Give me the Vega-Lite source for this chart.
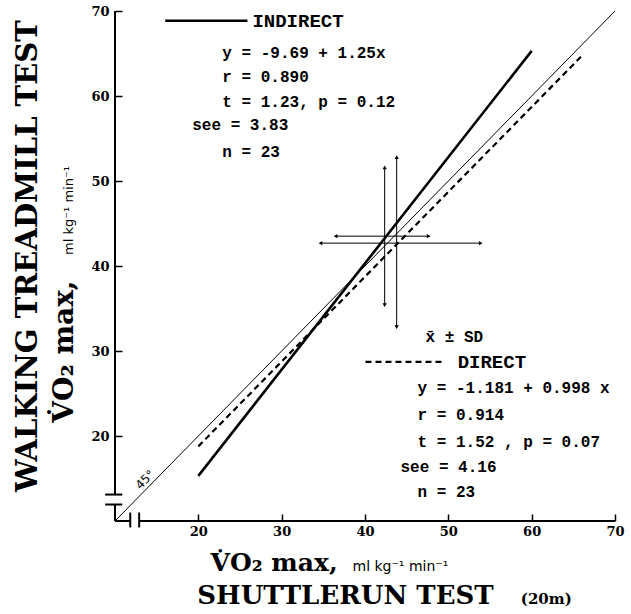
{
  "$schema": "https://vega.github.io/schema/vega-lite/v6.json",
  "width": 500,
  "height": 510,
  "autosize": {"type": "none"},
  "padding": {"left": 115, "top": 11, "right": 16, "bottom": 93},
  "background": "white",
  "config": {
    "view": {"stroke": null},
    "axis": {"domain": false, "grid": false, "tickSize": -7, "tickWidth": 1.5, "tickColor": "black", "labelFont": "DejaVu Serif", "labelFontSize": 13, "labelFontWeight": "bold", "labelColor": "black", "labelFlush": false, "titleFontSize": 0},
    "axisX": {"labelPadding": 11},
    "axisY": {"labelPadding": 13}
  },
  "datasets": {
    "lines": [
      {"id": "identity", "x": 10, "y": 10},
      {"id": "identity", "x": 70, "y": 70},
      {"id": "indirect", "x": 20, "y": 15.31},
      {"id": "indirect", "x": 60, "y": 65.31},
      {"id": "indirect_key", "x": 16.03, "y": 68.86},
      {"id": "indirect_key", "x": 25.89, "y": 68.86},
      {"id": "direct", "x": 20, "y": 18.78},
      {"id": "direct", "x": 66.1, "y": 64.8},
      {"id": "direct_key", "x": 40.06, "y": 28.72},
      {"id": "direct_key", "x": 49.32, "y": 28.72}
    ],
    "crosses": [
      {"cross": "A", "x": 42.36, "x_lo": 36.47, "x_hi": 47.64, "y": 43.51, "y_lo": 35.4, "y_hi": 51.6},
      {"cross": "B", "x": 43.8, "x_lo": 34.66, "x_hi": 53.89, "y": 42.69, "y_lo": 32.8, "y_hi": 52.8}
    ],
    "frame": [
      {"x": 10, "x2": 10, "y": 13.11, "y2": 70},
      {"x": 10, "x2": 10, "y": 10, "y2": 11.94},
      {"x": 8.82, "x2": 10.87, "y": 13.11, "y2": 13.11},
      {"x": 8.82, "x2": 10.87, "y": 11.94, "y2": 11.94},
      {"x": 10, "x2": 11.83, "y": 10, "y2": 10},
      {"x": 12.9, "x2": 70, "y": 10, "y2": 10},
      {"x": 11.83, "x2": 11.83, "y": 9.24, "y2": 11.0},
      {"x": 12.9, "x2": 12.9, "y": 9.24, "y2": 11.0}
    ],
    "stats": [
      {"x": 22.88, "y": 65.1, "text": "y = -9.69 + 1.25x"},
      {"x": 22.88, "y": 62.29, "text": "r = 0.890"},
      {"x": 22.88, "y": 59.24, "text": "t = 1.23,  p = 0.12"},
      {"x": 19.27, "y": 56.54, "text": "see = 3.83"},
      {"x": 22.88, "y": 53.37, "text": "n = 23"},
      {"x": 47.27, "y": 31.65, "text": "x̄ ± SD"},
      {"x": 46.31, "y": 25.67, "text": "y = -1.181 + 0.998 x"},
      {"x": 46.31, "y": 22.5, "text": "r =  0.914"},
      {"x": 46.31, "y": 19.33, "text": "t =  1.52 , p = 0.07"},
      {"x": 44.26, "y": 16.4, "text": "see =  4.16"},
      {"x": 46.31, "y": 13.46, "text": "n =  23"}
    ],
    "heads": [
      {"x": 26.49, "y": 68.86, "text": "INDIRECT"},
      {"x": 51.12, "y": 28.72, "text": "DIRECT"}
    ]
  },
  "layer": [
    {
      "data": {"name": "lines"},
      "transform": [{"filter": "datum.id === 'identity'"}],
      "mark": {"type": "line", "color": "black", "strokeWidth": 1},
      "encoding": {
        "x": {"field": "x", "type": "quantitative", "title": null, "scale": {"domain": [10, 70], "nice": false, "zero": false},
          "axis": {"values": [20, 30, 40, 50, 60, 70]}},
        "y": {"field": "y", "type": "quantitative", "title": null, "scale": {"domain": [10, 70], "nice": false, "zero": false},
          "axis": {"values": [20, 30, 40, 50, 60, 70]}}
      }
    },
    {
      "data": {"name": "lines"},
      "transform": [{"filter": "datum.id === 'indirect' || datum.id === 'indirect_key'"}],
      "mark": {"type": "line", "color": "black", "strokeWidth": 2.6},
      "encoding": {
        "x": {"field": "x", "type": "quantitative", "title": null},
        "y": {"field": "y", "type": "quantitative", "title": null},
        "detail": {"field": "id"}
      }
    },
    {
      "data": {"name": "lines"},
      "transform": [{"filter": "datum.id === 'direct' || datum.id === 'direct_key'"}],
      "mark": {"type": "line", "color": "black", "strokeWidth": 2.2, "strokeDash": [6, 4]},
      "encoding": {
        "x": {"field": "x", "type": "quantitative", "title": null},
        "y": {"field": "y", "type": "quantitative", "title": null},
        "detail": {"field": "id"}
      }
    },
    {
      "data": {"name": "frame"},
      "mark": {"type": "rule", "color": "black", "strokeWidth": 2},
      "encoding": {
        "x": {"field": "x", "type": "quantitative", "title": null},
        "x2": {"field": "x2"},
        "y": {"field": "y", "type": "quantitative", "title": null},
        "y2": {"field": "y2"}
      }
    },
    {
      "data": {"name": "crosses"},
      "mark": {"type": "rule", "color": "black", "strokeWidth": 1},
      "encoding": {
        "x": {"field": "x", "type": "quantitative", "title": null},
        "y": {"field": "y_lo", "type": "quantitative", "title": null},
        "y2": {"field": "y_hi"}
      }
    },
    {
      "data": {"name": "crosses"},
      "mark": {"type": "rule", "color": "black", "strokeWidth": 1},
      "encoding": {
        "y": {"field": "y", "type": "quantitative", "title": null},
        "x": {"field": "x_lo", "type": "quantitative", "title": null},
        "x2": {"field": "x_hi"}
      }
    },
    {
      "data": {"name": "crosses"},
      "mark": {"type": "point", "shape": "triangle-up", "filled": true, "color": "black", "size": 18, "opacity": 1},
      "encoding": {
        "x": {"field": "x", "type": "quantitative", "title": null},
        "y": {"field": "y_hi", "type": "quantitative", "title": null}
      }
    },
    {
      "data": {"name": "crosses"},
      "mark": {"type": "point", "shape": "triangle-down", "filled": true, "color": "black", "size": 18, "opacity": 1},
      "encoding": {
        "x": {"field": "x", "type": "quantitative", "title": null},
        "y": {"field": "y_lo", "type": "quantitative", "title": null}
      }
    },
    {
      "data": {"name": "crosses"},
      "mark": {"type": "point", "shape": "triangle-left", "filled": true, "color": "black", "size": 18, "opacity": 1},
      "encoding": {
        "x": {"field": "x_lo", "type": "quantitative", "title": null},
        "y": {"field": "y", "type": "quantitative", "title": null}
      }
    },
    {
      "data": {"name": "crosses"},
      "mark": {"type": "point", "shape": "triangle-right", "filled": true, "color": "black", "size": 18, "opacity": 1},
      "encoding": {
        "x": {"field": "x_hi", "type": "quantitative", "title": null},
        "y": {"field": "y", "type": "quantitative", "title": null}
      }
    },
    {
      "data": {"name": "stats"},
      "mark": {"type": "text", "align": "left", "baseline": "middle", "font": "Liberation Mono", "fontSize": 16, "fontWeight": "bold", "color": "black"},
      "encoding": {
        "x": {"field": "x", "type": "quantitative", "title": null},
        "y": {"field": "y", "type": "quantitative", "title": null},
        "text": {"field": "text"}
      }
    },
    {
      "data": {"name": "heads"},
      "mark": {"type": "text", "align": "left", "baseline": "middle", "font": "Liberation Mono", "fontSize": 19, "fontWeight": "bold", "color": "black"},
      "encoding": {
        "x": {"field": "x", "type": "quantitative", "title": null},
        "y": {"field": "y", "type": "quantitative", "title": null},
        "text": {"field": "text"}
      }
    },
    {
      "data": {"values": [{"x": 13.62, "y": 14.87, "text": "45°"}]},
      "mark": {"type": "text", "align": "center", "baseline": "middle", "angle": 315, "font": "DejaVu Sans", "fontSize": 12, "color": "black"},
      "encoding": {
        "x": {"field": "x", "type": "quantitative", "title": null},
        "y": {"field": "y", "type": "quantitative", "title": null},
        "text": {"field": "text"}
      }
    },
    {
      "data": {"values": [{"x": 21.46, "y": 4.07, "text": "V̇O₂ max,"}]},
      "mark": {"type": "text", "align": "left", "baseline": "alphabetic", "font": "DejaVu Serif", "fontSize": 25, "fontWeight": "bold", "color": "black"},
      "encoding": {
        "x": {"field": "x", "type": "quantitative", "title": null},
        "y": {"field": "y", "type": "quantitative", "title": null},
        "text": {"field": "text"}
      }
    },
    {
      "data": {"values": [{"x": 38.5, "y": 4.07, "text": "ml kg⁻¹ min⁻¹"}]},
      "mark": {"type": "text", "align": "left", "baseline": "alphabetic", "font": "DejaVu Sans", "fontSize": 14, "color": "black"},
      "encoding": {
        "x": {"field": "x", "type": "quantitative", "title": null},
        "y": {"field": "y", "type": "quantitative", "title": null},
        "text": {"field": "text"}
      }
    },
    {
      "data": {"values": [{"x": 19.88, "y": 0.2, "text": "SHUTTLERUN TEST"}]},
      "mark": {"type": "text", "align": "left", "baseline": "alphabetic", "font": "DejaVu Serif", "fontSize": 26, "fontWeight": "bold", "color": "black"},
      "encoding": {
        "x": {"field": "x", "type": "quantitative", "title": null},
        "y": {"field": "y", "type": "quantitative", "title": null},
        "text": {"field": "text"}
      }
    },
    {
      "data": {"values": [{"x": 58.7, "y": 0.2, "text": "(20m)"}]},
      "mark": {"type": "text", "align": "left", "baseline": "alphabetic", "font": "DejaVu Serif", "fontSize": 15, "fontWeight": "bold", "color": "black"},
      "encoding": {
        "x": {"field": "x", "type": "quantitative", "title": null},
        "y": {"field": "y", "type": "quantitative", "title": null},
        "text": {"field": "text"}
      }
    },
    {
      "data": {"values": [{"x": 0.65, "y": 41.16, "text": "WALKING TREADMILL TEST"}]},
      "mark": {"type": "text", "align": "center", "baseline": "alphabetic", "angle": 270, "font": "DejaVu Serif", "fontSize": 29, "fontWeight": "bold", "color": "black"},
      "encoding": {
        "x": {"field": "x", "type": "quantitative", "title": null},
        "y": {"field": "y", "type": "quantitative", "title": null},
        "text": {"field": "text"}
      }
    },
    {
      "data": {"values": [{"x": 4.98, "y": 21.56, "text": "V̇O₂ max,"}]},
      "mark": {"type": "text", "align": "left", "baseline": "alphabetic", "angle": 270, "font": "DejaVu Serif", "fontSize": 28, "fontWeight": "bold", "color": "black"},
      "encoding": {
        "x": {"field": "x", "type": "quantitative", "title": null},
        "y": {"field": "y", "type": "quantitative", "title": null},
        "text": {"field": "text"}
      }
    },
    {
      "data": {"values": [{"x": 4.98, "y": 41.3, "text": "ml kg⁻¹ min⁻¹"}]},
      "mark": {"type": "text", "align": "left", "baseline": "alphabetic", "angle": 270, "font": "DejaVu Sans", "fontSize": 13, "color": "black"},
      "encoding": {
        "x": {"field": "x", "type": "quantitative", "title": null},
        "y": {"field": "y", "type": "quantitative", "title": null},
        "text": {"field": "text"}
      }
    }
  ]
}
